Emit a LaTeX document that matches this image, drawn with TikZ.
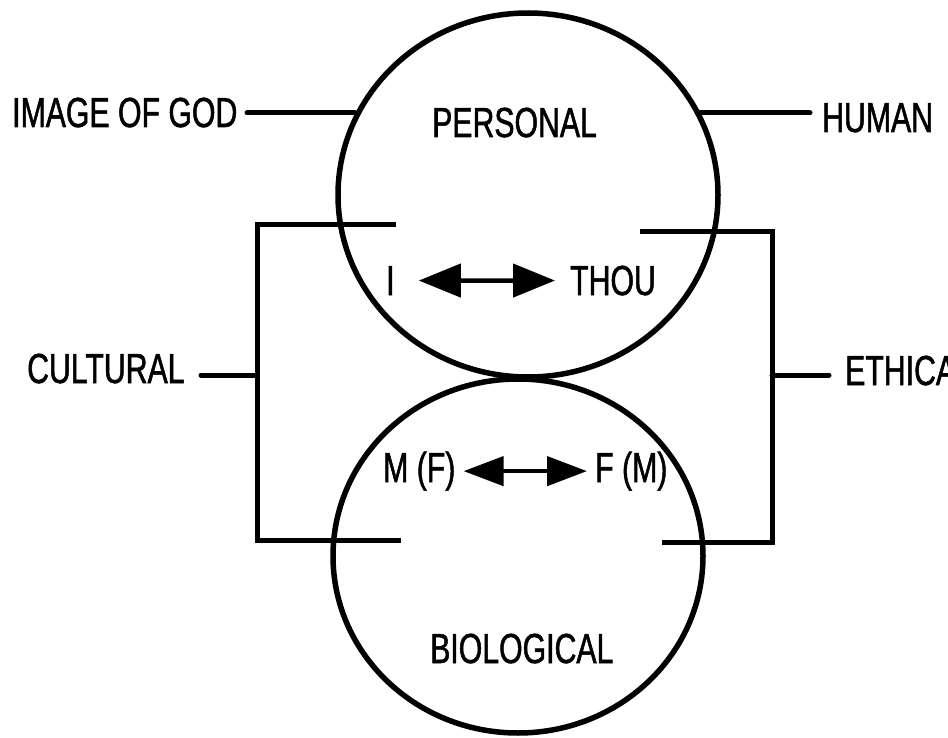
\documentclass[tikz,border=0pt]{standalone}
\usepackage{fontspec}
\setmainfont[FakeStretch=0.72,FakeBold=1.2]{Liberation Sans}
\usetikzlibrary{shapes.geometric,arrows.meta}
\begin{document}
\begin{tikzpicture}[x=1pt,y=-1pt,
  lbl/.style={inner sep=0pt,anchor=base west,font=\fontsize{42}{42}\selectfont},
  ring/.style={draw,ellipse,line width=5.5pt,inner sep=0pt},
  wire/.style={line width=5pt,line cap=round},
  biarrow/.style={line width=4.5pt,{Triangle[length=42pt,width=33pt]}-{Triangle[length=42pt,width=33pt]}},
  biarrowb/.style={line width=4.5pt,{Triangle[length=40pt,width=29pt]}-{Triangle[length=40pt,width=29pt]}}]
\useasboundingbox (0,0) rectangle (948,738);
\clip (0,0) rectangle (948,738);
% circles
\node[ring,minimum width=380pt,minimum height=364pt] (top) at (528,195) {};
\node[ring,minimum width=370pt,minimum height=354pt] (bot) at (518,556) {};
% labels
\node[lbl] (img) at (12,127) {IMAGE OF GOD};
\node[lbl] (hum) at (822,132) {HUMAN};
\node[lbl] (per) at (432,137) {PERSONAL};
\node[lbl] (i) at (386,295) {I};
\node[lbl] (thou) at (570,295) {THOU};
\node[lbl] (cul) at (27,383) {CULTURAL};
\node[lbl] (eth) at (845,385) {ETHICAL};
\node[lbl] (mf) at (383,482) {M (F)};
\node[lbl] (fm) at (595,482) {F (M)};
\node[lbl] (bio) at (430,663) {BIOLOGICAL};
% coordinates
\coordinate (imgA) at (247,113);
\coordinate (imgB) at (355,113);
\coordinate (humA) at (700,113);
\coordinate (humB) at (810,113);
\coordinate (lt) at (396,225);
\coordinate (ltc) at (257,225);
\coordinate (lbc) at (257,540);
\coordinate (lb) at (401,540);
\coordinate (culA) at (201,375);
\coordinate (culB) at (257,375);
\coordinate (rt) at (640,232);
\coordinate (rtc) at (772,232);
\coordinate (rbc) at (772,542);
\coordinate (rb) at (662,542);
\coordinate (ethA) at (772,375);
\coordinate (ethB) at (829,375);
% connectors
\draw[wire] (imgA) -- (imgB);
\draw[wire] (humA) -- (humB);
\draw[wire,line cap=butt] (lt) -- (ltc) -- (lbc) -- (lb);
\draw[wire] (culA) -- (culB);
\draw[wire,line cap=butt] (rt) -- (rtc) -- (rbc) -- (rb);
\draw[wire] (ethA) -- (ethB);
% arrows
\draw[biarrow,shorten <=24pt,shorten >=15pt] (i) -- (thou);
\draw[biarrowb,shorten <=8pt,shorten >=8pt] (mf) -- (fm);
\end{tikzpicture}
\end{document}
